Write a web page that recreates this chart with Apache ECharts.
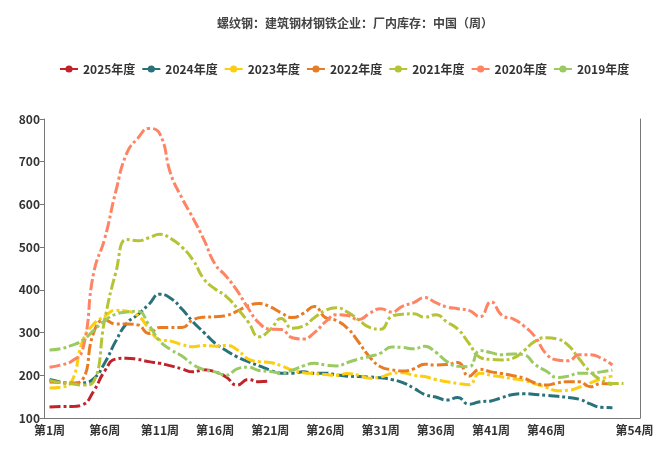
<!DOCTYPE html>
<html>
<head>
<meta charset="utf-8">
<title>螺纹钢厂内库存</title>
<script src="https://cdn.jsdelivr.net/npm/echarts@6/dist/echarts.min.js"></script>
<style>
  html, body { margin: 0; padding: 0; background: #fff; }
  #chart { width: 663px; height: 452px; }
</style>
</head>
<body>
<div id="chart"></div>
<script>
// 周标签 第1周 ~ 第54周
const weeks = [];
for (let i = 1; i <= 54; i++) weeks.push("第" + i + "周");

const years = ["2025年度", "2024年度", "2023年度", "2022年度", "2021年度", "2020年度", "2019年度"];
const colors = ["#C1232B", "#27727B", "#FCCE10", "#E87C25", "#B5C334", "#FE8463", "#9BCA63"];

// 各年度数据（万吨），读图估计
const y2025 = [126, 127, 127, 131, 163, 210, 238, 240, 237, 232, 228, 222, 215, 208, 213, 208,
  196, 177, 190, 185, 187];
const y2024 = [190, 184, 181, 182, 192, 229, 280, 322, 342, 366, 390, 380, 355, 325, 300, 275,
  258, 243, 232, 222, 212, 205, 205, 208, 205, 205, 201, 198, 197, 196, 194, 190, 183, 170,
  155, 149, 142, 148, 132, 138, 140, 148, 155, 157, 155, 153, 151, 148, 144, 133, 125, 124];
const y2023 = [170, 172, 185, 280, 320, 338, 352, 350, 340, 310, 283, 280, 272, 267, 270, 268,
  270, 260, 238, 232, 230, 222, 212, 206, 204, 202, 200, 204, 200, 193, 196, 204, 206, 200,
  197, 190, 185, 181, 178, 205, 200, 196, 192, 188, 180, 172, 164, 165, 172, 182, 192, 198];
const y2022 = [184, 183, 182, 190, 300, 330, 320, 320, 318, 298, 312, 312, 312, 330, 336, 337,
  340, 350, 363, 368, 360, 346, 335, 345, 361, 335, 328, 310, 278, 243, 220, 213, 210, 215,
  226, 224, 225, 230, 198, 214, 208, 204, 199, 193, 182, 177, 182, 185, 185, 173, 181, 179];
const y2021 = [188, 183, 180, 177, 185, 330, 440, 518, 515, 522, 530, 520, 500, 470, 425, 402,
  385, 357, 325, 290, 307, 333, 310, 315, 335, 352, 358, 348, 330, 312, 308, 338, 343, 344,
  336, 342, 325, 308, 275, 242, 237, 236, 240, 258, 280, 288, 285, 270, 238, 208, 189, 181, 181];
const y2020 = [219, 224, 233, 260, 440, 520, 630, 720, 755, 778, 765, 670, 615, 568, 517, 460,
  432, 398, 357, 322, 308, 307, 288, 285, 300, 325, 342, 340, 330, 345, 356, 348, 362, 370,
  382, 370, 360, 356, 352, 337, 372, 340, 332, 315, 290, 250, 236, 234, 248, 248, 240, 224];
const y2019 = [259, 262, 270, 282, 305, 328, 343, 348, 350, 318, 280, 260, 245, 225, 213, 208,
  200, 215, 219, 211, 209, 205, 212, 222, 228, 224, 222, 230, 238, 244, 252, 266, 265, 262,
  268, 254, 232, 221, 220, 258, 253, 248, 250, 248, 225, 210, 195, 198, 205, 205, 208, 212];

const yearData = [y2025, y2024, y2023, y2022, y2021, y2020, y2019];

const yMin = 100, yMax = 800, yStep = 100;

const chart = echarts.init(document.getElementById("chart"));

const seriesList = years.map(function (name, i) {
  return {
    name: name,
    type: "line",
    smooth: true,
    symbol: "circle",
    symbolSize: 9,
    showSymbol: false,
    data: yearData[i],
    lineStyle: { width: 3, type: [11, 3, 3, 3] },
  };
});

const option = {
  color: colors,
  animation: false,
  textStyle: { fontFamily: "Noto Sans CJK SC" },
  title: {
    text: "螺纹钢：建筑钢材钢铁企业：厂内库存：中国（周）",
    left: 212,
    top: 12,
    textStyle: { fontSize: 12, fontWeight: "bold", color: "#444" },
  },
  legend: {
    data: years,
    top: 58,
    left: 54,
    itemWidth: 18,
    itemHeight: 9,
    itemGap: 6,
    lineStyle: { type: "solid", width: 2 },
    textStyle: { fontSize: 12, fontWeight: "bold", color: "#333" },
  },
  grid: { left: 44, right: 23, top: 119, bottom: 34 },
  xAxis: {
    type: "category",
    data: weeks,
    boundaryGap: true,
    axisLine: { lineStyle: { color: "#777" } },
    axisTick: {
      length: 4,
      interval: function (i) { return i % 5 === 0; },
    },
    axisLabel: {
      color: "#333",
      fontSize: 12,
      fontWeight: "bold",
      margin: 6,
      interval: function (i) { return (i % 5 === 0 && i !== 50) || i === 53; },
    },
    splitLine: { show: false },
  },
  yAxis: [
    {
      type: "value",
      min: yMin,
      max: yMax,
      interval: yStep,
      axisLine: { show: true, lineStyle: { color: "#777" } },
      axisTick: { show: true, length: 4 },
      axisLabel: { color: "#333", fontSize: 12, fontWeight: "bold", margin: 4 },
      splitLine: { show: false },
    },
    {
      type: "value",
      position: "right",
      min: yMin,
      max: yMax,
      interval: yStep,
      axisLine: { show: true, lineStyle: { color: "#777" } },
      axisTick: { show: false },
      axisLabel: { show: false },
      splitLine: { show: false },
    },
  ],
  series: seriesList,
};

chart.setOption(option);
</script>
</body>
</html>
